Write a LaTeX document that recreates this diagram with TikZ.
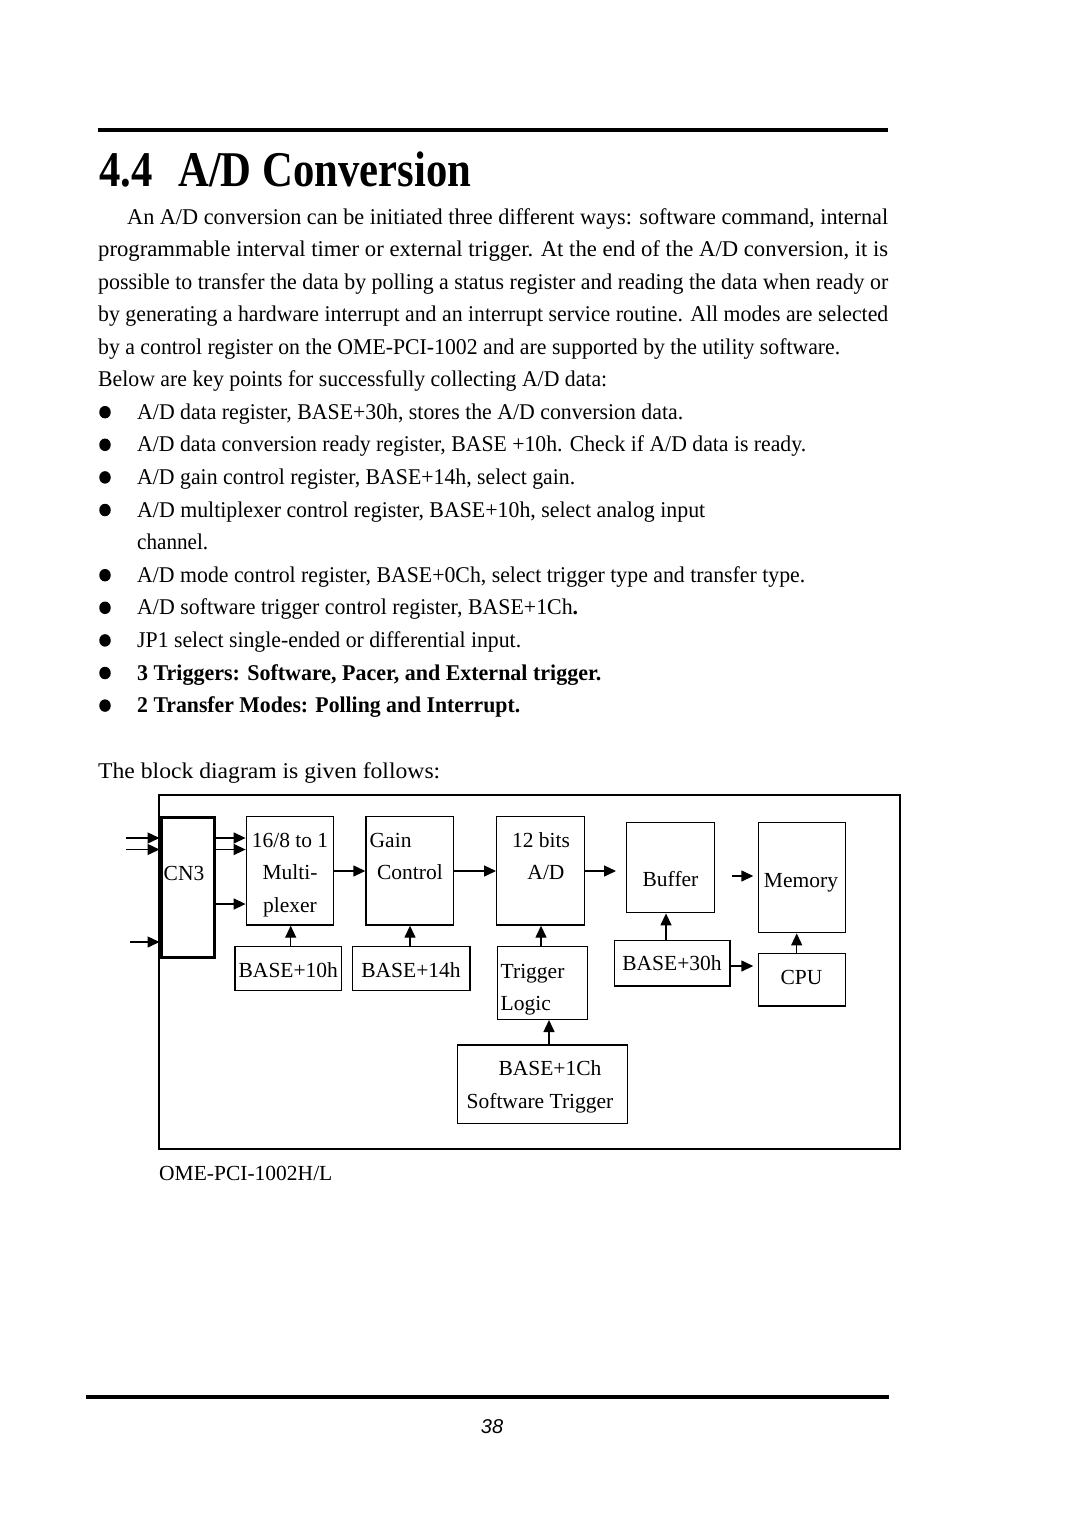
\documentclass[tikz,border=0pt]{standalone}
\usepackage{fontspec}
\setmainfont{Liberation Serif}
\newfontfamily\pnfont{Liberation Sans}
\usetikzlibrary{arrows.meta,fit}
\newcommand\fitw[2]{\resizebox{#1pt}{\height}{#2}}
\newcommand\dgfnt{\fontsize{21.5}{25}\selectfont}
\newcommand\bodyfnt{\fontsize{22.5}{26}\selectfont}
\tikzset{
  blk/.style={draw, line width=1.4pt, inner sep=0pt},
  lbl/.style={inner sep=0pt, anchor=base, font=\dgfnt},
  lbll/.style={inner sep=0pt, anchor=base west, font=\dgfnt},
  txt/.style={inner sep=0pt, anchor=base west, font=\bodyfnt},
  bul/.style={ellipse, fill=black, inner sep=0pt, minimum width=11.5pt, minimum height=12.5pt},
  arr/.style={line width=1.4pt, -{Triangle[length=12pt,width=11pt]}},
  rule/.style={line width=3.5pt},
}
\usetikzlibrary{shapes.geometric}
\begin{document}
\begin{tikzpicture}[x=1pt,y=-1pt]
\fill[white] (0,0) rectangle (1080,1528);
\useasboundingbox (0,0) rectangle (1080,1528);

% rules
\coordinate (r1a) at (98,130); \coordinate (r1b) at (888,130);
\draw[rule] (r1a) -- (r1b);
\coordinate (r2a) at (86,1397); \coordinate (r2b) at (889,1397);
\draw[rule] (r2a) -- (r2b);

% title
\node[inner sep=0pt, anchor=base west, font=\fontsize{50}{55}\selectfont\bfseries] (title) at (99,186) {\fitw{372}{4.4\hspace{0.6em}A/D Conversion}};

% body text
\node[txt] (l1) at (127,224) {\fitw{761}{An A/D conversion can be initiated three different ways: software command, internal}};
\node[txt] (l2) at (98,256.5) {\fitw{790}{programmable interval timer or external trigger. At the end of the A/D conversion, it is}};
\node[txt] (l3) at (98,289) {\fitw{790}{possible to transfer the data by polling a status register and reading the data when ready or}};
\node[txt] (l4) at (98,321.5) {\fitw{790}{by generating a hardware interrupt and an interrupt service routine. All modes are selected}};
\node[txt] (l5) at (98,354) {\fitw{742}{by a control register on the OME-PCI-1002 and are supported by the utility software.}};
\node[txt] (l6) at (98,386.6) {\fitw{509}{Below are key points for successfully collecting A/D data:}};

\node[txt] (l7) at (137,419.2) {\fitw{546}{A/D data register, BASE+30h, stores the A/D conversion data.}};
\node[txt] (l8) at (137,451.8) {\fitw{669}{A/D data conversion ready register, BASE +10h. Check if A/D data is ready.}};
\node[txt] (l9) at (137,484.4) {\fitw{438}{A/D gain control register, BASE+14h, select gain.}};
\node[txt] (l10) at (137,517) {\fitw{568}{A/D multiplexer control register, BASE+10h, select analog input}};
\node[txt] (l11) at (137,549.6) {\fitw{71}{channel.}};
\node[txt] (l12) at (137,582.2) {\fitw{668}{A/D mode control register, BASE+0Ch, select trigger type and transfer type.}};
\node[txt] (l13) at (137,614.8) {\fitw{441}{A/D software trigger control register, BASE+1Ch\textbf{.}}};
\node[txt] (l14) at (137,647.4) {\fitw{384}{JP1 select single-ended or differential input.}};
\node[txt] (l15) at (137,680) {\fitw{464}{\bfseries 3 Triggers: Software, Pacer, and External trigger.}};
\node[txt] (l16) at (137,712.6) {\fitw{383}{\bfseries 2 Transfer Modes: Polling and Interrupt.}};
\node[txt] (l17) at (98,778.2) {\fitw{342}{The block diagram is given follows:}};

\foreach \yy [count=\i] in {412.2,444.8,477.4,510,575.2,607.8,640.4,673,705.6}
  \node[bul] (b\i) at (105,\yy) {};

% diagram frame
\node[draw, line width=2pt, inner sep=0pt, fit={(159,795) (900,1149)}] (frame) {};
\node[draw, line width=3pt, inner sep=0pt, fit={(161,817) (214,957)}] (cn3) {};
\node[lbl] (cn3t) at (184,880) {CN3};

% blocks
\node[blk, fit={(246.3,816.7) (333.3,925)}] (mux) {};
\node[blk, fit={(366,816.7) (453.3,925)}] (gain) {};
\node[blk, fit={(496.7,816.7) (584.3,925)}] (ad) {};
\node[blk, fit={(626.7,822.7) (714.3,912.7)}] (buf) {};
\node[blk, fit={(758.3,822.7) (845.7,932.7)}] (mem) {};
\node[blk, fit={(235,946.7) (341.7,990.7)}] (b10) {};
\node[blk, fit={(352.3,946.7) (470,990.7)}] (b14) {};
\node[blk, fit={(497.3,946.7) (587.7,1019.3)}] (tl) {};
\node[blk, fit={(614.3,940.7) (730,986)}] (b30) {};
\node[blk, fit={(758.3,953.3) (845.7,1006)}] (cpu) {};
\node[blk, fit={(457.3,1045) (627.7,1123.3)}] (sw) {};

% labels
\node[lbl] (muxt1) at (290,847) {16/8 to 1};
\node[lbl] (muxt2) at (290,879.5) {Multi-};
\node[lbl] (muxt3) at (290,912) {plexer};
\node[lbll] (gaint1) at (369.5,847) {Gain};
\node[lbl] (gaint2) at (410,879.5) {Control};
\node[lbl] (adt1) at (541,847) {12 bits};
\node[lbl] (adt2) at (546,879.5) {A/D};
\node[lbl] (buft) at (670.5,886.5) {Buffer};
\node[lbl] (memt) at (801,887) {Memory};
\node[lbl] (b10t) at (288.3,977) {BASE+10h};
\node[lbl] (b14t) at (411,977) {BASE+14h};
\node[lbll] (tlt1) at (500.5,978.5) {Trigger};
\node[lbll] (tlt2) at (500.5,1010.5) {Logic};
\node[lbl] (b30t) at (672,970) {BASE+30h};
\node[lbl] (cput) at (801.5,984) {CPU};
\node[lbl] (swt1) at (550,1075.5) {BASE+1Ch};
\node[lbl] (swt2) at (540,1108.5) {Software Trigger};
\node[lbll] (model) at (159,1180) {OME-PCI-1002H/L};

% connectors
\coordinate (i1) at (126,838);
\coordinate (i2) at (126,849.5);
\coordinate (i3) at (130,942);
\coordinate (y904) at (0,904);
\coordinate (ya) at (0,871);
\draw[arr] (i1) -- (i1 -| cn3.west);
\draw[arr] (i2) -- (i2 -| cn3.west);
\draw[arr] (i3) -- (i3 -| cn3.west);
\draw[arr] (cn3.east |- i1) -- (mux.west |- i1);
\draw[arr] (cn3.east |- i2) -- (mux.west |- i2);
\draw[arr] (cn3.east |- y904) -- (mux.west |- y904);
\draw[arr] (mux.east |- ya) -- (gain.west |- ya);
\draw[arr] (gain.east |- ya) -- (ad.west |- ya);
\coordinate (bufin) at (616,871);
\draw[arr] (ad.east |- ya) -- (bufin);
\coordinate (bm1) at (732,876);
\coordinate (bm2) at (753.3,876);
\draw[arr] (bm1) -- (bm2);

\coordinate (x10) at (290.7,0);
\coordinate (x14) at (410,0);
\coordinate (xtl) at (541,0);
\coordinate (x30) at (666,0);
\coordinate (xcpu) at (796.7,0);
\coordinate (xsw) at (549,0);
\coordinate (y30) at (0,966);
\draw[arr] (b10.north -| x10) -- (mux.south -| x10);
\draw[arr] (b14.north -| x14) -- (gain.south -| x14);
\draw[arr] (tl.north -| xtl) -- (ad.south -| xtl);
\draw[arr] (b30.north -| x30) -- (buf.south -| x30);
\coordinate (cpuin) at (753.3,966);
\draw[arr] (b30.east |- y30) -- (cpuin);
\draw[arr] (cpu.north -| xcpu) -- (mem.south -| xcpu);
\draw[arr] (sw.north -| xsw) -- (tl.south -| xsw);

% page number
\node[inner sep=0pt, anchor=base, font=\pnfont\itshape\fontsize{20}{24}\selectfont] (pg) at (492,1433) {38};
\end{tikzpicture}
\end{document}
